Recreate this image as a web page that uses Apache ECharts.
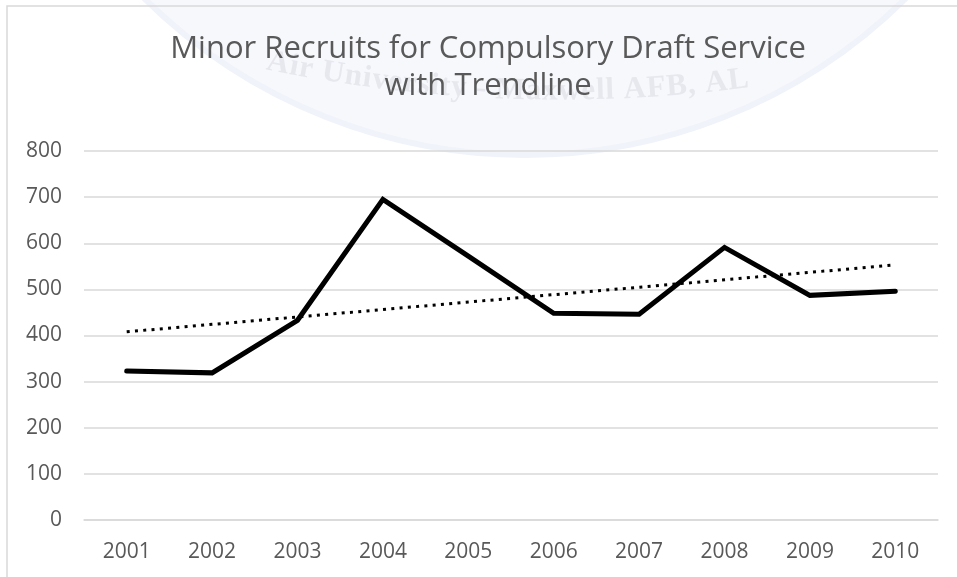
<!DOCTYPE html>
<html>
<head>
<meta charset="utf-8">
<script src="https://cdn.jsdelivr.net/npm/echarts@6/dist/echarts.min.js"></script>
<style>
  html, body { margin: 0; padding: 0; background: #fff; }
  #main { width: 957px; height: 577px; }
</style>
</head>
<body>
<div id="main"></div>
<script>
// years on the x axis
var years = ['2001', '2002', '2003', '2004', '2005', '2006', '2007', '2008', '2009', '2010'];
// minor recruits per year
var recruits = [323, 319, 433, 695, 572, 448, 446, 591, 487, 496];
var trend = [408, '-', '-', '-', '-', '-', '-', '-', '-', 553];
// y axis ticks
var yTicks = [0, 100, 200, 300, 400, 500, 600, 700, 800];

var chart = echarts.init(document.getElementById('main'));

// faint seal watermark behind the title, just decoration
var sealText = 'Air University - Maxwell AFB, AL';
var sealFont = 'bold 31px "Liberation Serif", "DejaVu Serif", serif';
var ctx = document.createElement('canvas').getContext('2d');
ctx.font = sealFont;
var seal = [];
var cx = 560, cy = -1343, R = 1450;
var pos = 262 - cx; // arc length where the text starts
for (var i = 0; i < sealText.length; i++) {
    var w = ctx.measureText(sealText[i]).width;
    var th = (pos + w / 2) / R;
    pos += w + 1;
    if (sealText[i] === ' ') continue;
    seal.push({
        type: 'text',
        x: cx + R * Math.sin(th),
        y: cy + R * Math.cos(th),
        rotation: th,
        z: -5,
        silent: true,
        style: {
            text: sealText[i],
            fill: '#e7e8ee',
            font: sealFont,
            textAlign: 'center',
            textVerticalAlign: 'bottom'
        }
    });
}

chart.setOption({
    backgroundColor: '#fff',
    animation: false,
    title: {
        text: 'Minor Recruits for Compulsory Draft Service\nwith Trendline',
        left: 488,
        top: 31,
        textAlign: 'center',
        padding: 0,
        textStyle: {
            color: '#595959',
            fontFamily: '"Open Sans", sans-serif',
            fontWeight: 'normal',
            fontSize: 31,
            lineHeight: 37
        }
    },
    graphic: [{
        type: 'circle',
        z: -10,
        silent: true,
        shape: { cx: 525, cy: -386, r: 541 },
        style: { fill: '#f6f8fc', stroke: '#f0f3fa', lineWidth: 6 }
    }, {
        type: 'rect',
        z: -1,
        silent: true,
        shape: { x: 7, y: 6, width: 1000, height: 1000 },
        style: { fill: 'none', stroke: '#d9d9d9', lineWidth: 1.5 }
    }].concat(seal),
    grid: {
        left: 84,
        right: 19,
        top: 151,
        bottom: 57
    },
    xAxis: {
        type: 'category',
        data: years,
        boundaryGap: true,
        axisLine: { show: true, lineStyle: { color: '#d9d9d9', width: 1.5 } },
        axisTick: { show: false },
        axisLabel: {
            color: '#595959',
            fontFamily: '"Open Sans", sans-serif',
            fontSize: 21,
            margin: 22
        }
    },
    yAxis: {
        type: 'value',
        min: yTicks[0],
        max: yTicks[yTicks.length - 1],
        interval: 100,
        axisLine: { show: false },
        axisTick: { show: false },
        splitLine: { lineStyle: { color: '#d9d9d9', width: 1.5 } },
        axisLabel: {
            color: '#595959',
            fontFamily: '"Open Sans", sans-serif',
            fontSize: 21,
            margin: 22
        }
    },
    series: [{
        name: 'Recruits',
        type: 'line',
        data: recruits,
        showSymbol: false,
        symbol: 'none',
        lineStyle: { color: '#000', width: 5, cap: 'round', join: 'miter' },
        z: 3
    }, {
        name: 'Linear trend',
        type: 'line',
        data: trend,
        connectNulls: true,
        showSymbol: false,
        symbol: 'none',
        lineStyle: { color: '#000', width: 3, type: [3, 5.3] },
        z: 2
    }]
});
</script>
</body>
</html>
